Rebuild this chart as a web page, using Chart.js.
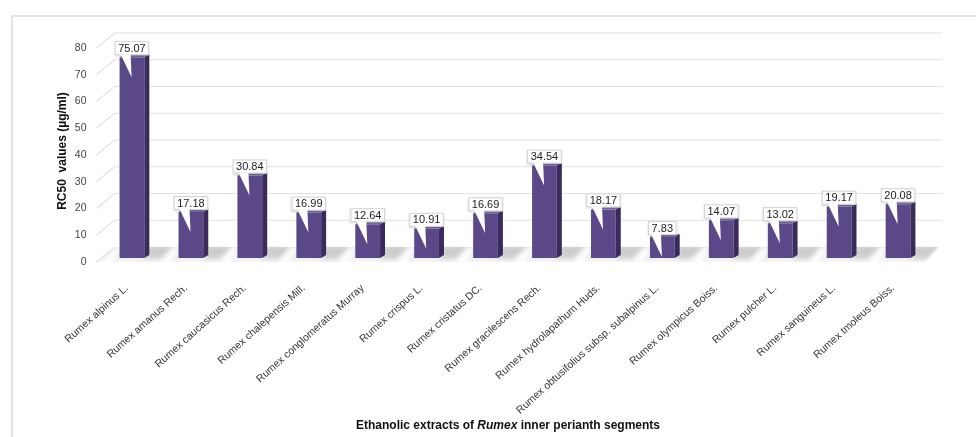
<!DOCTYPE html>
<html>
<head>
<meta charset="utf-8">
<script src="https://cdn.jsdelivr.net/npm/chart.js@4.4.1/dist/chart.umd.min.js"></script>
<style>
  html, body { margin: 0; padding: 0; background: #ffffff; }
  #wrap { width: 976px; height: 437px; position: relative; }
</style>
</head>
<body>
<div id="wrap"><canvas id="chart" width="976" height="437"></canvas></div>
<script>
// Species (categories)
const species = [
  'Rumex alpinus L.',
  'Rumex amanus Rech.',
  'Rumex caucasicus Rech.',
  'Rumex chalepensis Mill.',
  'Rumex conglomeratus Murray',
  'Rumex crispus L.',
  'Rumex cristatus DC.',
  'Rumex gracilescens Rech.',
  'Rumex hydrolapathum Huds.',
  'Rumex obtusifolius subsp. subalpinus L.',
  'Rumex olympicus Boiss.',
  'Rumex pulcher L.',
  'Rumex sanguineus L.',
  'Rumex tmoleus Boiss.'
];

// RC50 values (µg/ml)
const rc50 = [75.07, 17.18, 30.84, 16.99, 12.64, 10.91, 16.69, 34.54, 18.17, 7.83, 14.07, 13.02, 19.17, 20.08];

// Y axis ticks
const yTicks = [0, 10, 20, 30, 40, 50, 60, 70, 80];

const yTitle = 'RC50  values (µg/ml)';
const xTitleParts = [
  { text: 'Ethanolic extracts of ', italic: false },
  { text: 'Rumex', italic: true },
  { text: ' inner perianth segments', italic: false }
];

const FONT = '"Liberation Sans", Arial, Helvetica, sans-serif';
const FRONT = '#5b4889';
const SIDE = '#3a2b5c';
const TOP = '#7a68a6';

// Pseudo-3D geometry
const WALL_DX = 18;   // horizontal depth of floor / wall
const WALL_DY = 15;   // vertical depth of floor / wall
const FRONT_DROP = 4; // front edge of floor sits below the bar base
const BAR_DX = 5, BAR_DY = 3;

const scene3d = {
  id: 'scene3d',
  beforeDraw(chart) {
    const ctx = chart.ctx;
    ctx.save();
    ctx.strokeStyle = '#e3e3e3';
    ctx.lineWidth = 2;
    ctx.strokeRect(12, 16, 980, 440);
    ctx.restore();
  },
  beforeDatasetsDraw(chart) {
    const ctx = chart.ctx;
    const y = chart.scales.y;
    const area = chart.chartArea;
    const x0 = area.left - 6;
    const xEnd = area.right + 15;
    ctx.save();

    // floor
    const fy = y.getPixelForValue(0) + FRONT_DROP;
    const by = fy - WALL_DY;
    const g = ctx.createLinearGradient(0, by, 0, fy);
    g.addColorStop(0, '#dddddd');
    g.addColorStop(1, '#f6f6f6');
    ctx.fillStyle = g;
    ctx.beginPath();
    ctx.moveTo(x0, fy);
    ctx.lineTo(xEnd - WALL_DX, fy);
    ctx.lineTo(xEnd - 4, by);
    ctx.lineTo(x0 + WALL_DX, by);
    ctx.closePath();
    ctx.fill();

    // gridlines: slanted on the left side, then along the back wall
    ctx.strokeStyle = '#e2e2e2';
    ctx.lineWidth = 1.2;
    yTicks.forEach(v => {
      const py = y.getPixelForValue(v);
      ctx.beginPath();
      ctx.moveTo(x0, py + FRONT_DROP);
      ctx.lineTo(x0 + WALL_DX, py + FRONT_DROP - WALL_DY);
      if (v > 0) ctx.lineTo(xEnd, py + FRONT_DROP - WALL_DY);
      ctx.stroke();
    });

    // bar shadows and highlights on the floor
    const meta = chart.getDatasetMeta(0);
    ctx.filter = 'blur(2px)';
    meta.data.forEach(bar => {
      const p = bar.getProps(['x', 'width', 'base'], true);
      const l = p.x - p.width / 2, r = p.x + p.width / 2;
      ctx.fillStyle = 'rgba(110,110,110,0.22)';
      ctx.beginPath();
      ctx.moveTo(r, fy - 3);
      ctx.lineTo(r + 16, fy - 3);
      ctx.lineTo(r + 26, by + 1);
      ctx.lineTo(r + 6, by + 1);
      ctx.closePath();
      ctx.fill();
      ctx.fillStyle = 'rgba(255,255,255,0.95)';
      ctx.beginPath();
      ctx.moveTo(l - 17, fy + 1);
      ctx.lineTo(l - 9, fy + 1);
      ctx.lineTo(l + 3, by);
      ctx.lineTo(l - 5, by);
      ctx.closePath();
      ctx.fill();
    });
    ctx.filter = 'none';
    ctx.restore();
  },
  afterDatasetsDraw(chart) {
    const ctx = chart.ctx;
    const meta = chart.getDatasetMeta(0);
    ctx.save();
    meta.data.forEach(bar => {
      const p = bar.getProps(['x', 'y', 'width', 'base'], true);
      const l = p.x - p.width / 2, r = p.x + p.width / 2;
      // side face
      ctx.fillStyle = SIDE;
      ctx.beginPath();
      ctx.moveTo(r, p.y);
      ctx.lineTo(r + BAR_DX, p.y - BAR_DY);
      ctx.lineTo(r + BAR_DX, p.base - BAR_DY);
      ctx.lineTo(r, p.base);
      ctx.closePath();
      ctx.fill();
      // top face
      ctx.fillStyle = TOP;
      ctx.beginPath();
      ctx.moveTo(l, p.y);
      ctx.lineTo(l + BAR_DX, p.y - BAR_DY);
      ctx.lineTo(r + BAR_DX, p.y - BAR_DY);
      ctx.lineTo(r, p.y);
      ctx.closePath();
      ctx.fill();
    });
    ctx.restore();
  },
  afterDraw(chart) {
    const ctx = chart.ctx;
    const meta = chart.getDatasetMeta(0);
    ctx.save();
    // value callouts
    ctx.font = '11px ' + FONT;
    ctx.textAlign = 'center';
    ctx.textBaseline = 'middle';
    meta.data.forEach((bar, i) => {
      const p = bar.getProps(['x', 'y', 'width'], true);
      const l = p.x - p.width / 2;
      const txt = rc50[i].toFixed(2);
      const tw = ctx.measureText(txt).width;
      const bw = tw + 7, bh = 14;
      const bx = p.x - bw / 2, byy = p.y - 16;
      // box
      ctx.shadowColor = 'rgba(0,0,0,0.18)';
      ctx.shadowBlur = 2;
      ctx.shadowOffsetY = 1;
      ctx.fillStyle = '#ffffff';
      ctx.fillRect(bx, byy, bw, bh);
      ctx.shadowColor = 'transparent';
      ctx.strokeStyle = '#d2d2d2';
      ctx.lineWidth = 1;
      ctx.strokeRect(bx + 0.5, byy + 0.5, bw - 1, bh - 1);
      // pointer
      ctx.fillStyle = '#ffffff';
      ctx.beginPath();
      ctx.moveTo(l + 1, byy + bh - 1);
      ctx.lineTo(l + 11, byy + bh - 1);
      ctx.lineTo(l + 12, p.y + 20);
      ctx.closePath();
      ctx.fill();
      ctx.fillStyle = '#222222';
      ctx.fillText(txt, bx + bw / 2, byy + bh / 2 + 0.5);
    });

    // x axis title with italic genus
    ctx.fillStyle = '#111111';
    ctx.textAlign = 'left';
    ctx.textBaseline = 'middle';
    const fonts = xTitleParts.map(s => (s.italic ? 'italic ' : '') + 'bold 12px ' + FONT);
    let total = 0;
    const widths = xTitleParts.map((s, k) => { ctx.font = fonts[k]; const w = ctx.measureText(s.text).width; total += w; return w; });
    let cx = 508 - total / 2;
    xTitleParts.forEach((s, k) => { ctx.font = fonts[k]; ctx.fillText(s.text, cx, 426); cx += widths[k]; });
    ctx.restore();
  }
};

new Chart(document.getElementById('chart'), {
  type: 'bar',
  data: {
    labels: species,
    datasets: [{
      data: rc50,
      backgroundColor: FRONT,
      borderWidth: 0,
      categoryPercentage: 1,
      barPercentage: 0.42
    }]
  },
  options: {
    responsive: false,
    animation: false,
    devicePixelRatio: 1,
    layout: { padding: { top: 44, right: 48.5, left: 0, bottom: 0 } },
    plugins: { legend: { display: false }, tooltip: { enabled: false } },
    scales: {
      x: {
        grid: { display: false, drawTicks: false },
        border: { display: false },
        ticks: {
          autoSkip: false,
          minRotation: 42,
          maxRotation: 42,
          padding: 24,
          labelOffset: -5,
          color: '#333333',
          font: { family: FONT, size: 10.5 }
        },
        afterFit(scale) { scale.height = 179; }
      },
      y: {
        min: 0,
        max: 80,
        grid: { display: false, drawTicks: false },
        border: { display: false },
        ticks: {
          stepSize: 10,
          padding: 16,
          labelOffset: 4,
          color: '#444444',
          font: { family: FONT, size: 10.5 }
        },
        title: {
          display: true,
          text: yTitle,
          color: '#111111',
          font: { family: FONT, size: 12, weight: 'bold' },
          padding: { top: 55 }
        },
        afterFit(scale) { scale.width = 102.5; }
      }
    }
  },
  plugins: [scene3d]
});
</script>
</body>
</html>
